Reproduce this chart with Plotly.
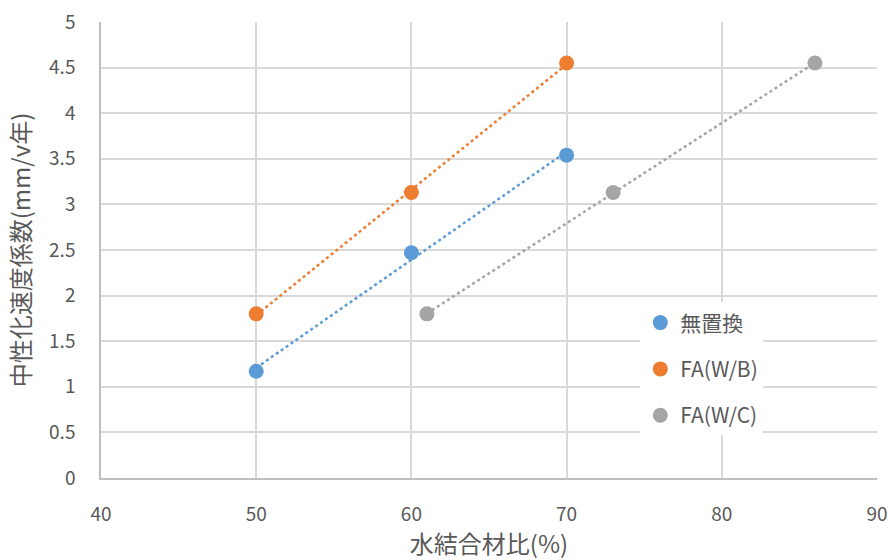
import numpy as np
import plotly.graph_objects as go

# Water-binder ratio (%) and carbonation rate coefficient for each mix series
series_names = ["無置換", "FA(W/B)", "FA(W/C)"]
x_none = [50, 60, 70]
y_none = [1.17, 2.47, 3.54]
x_fa_wb = [50, 60, 70]
y_fa_wb = [1.80, 3.13, 4.55]
x_fa_wc = [61, 73, 86]
y_fa_wc = [1.80, 3.13, 4.55]
colors = ["#5B9BD5", "#ED7D31", "#A5A5A5"]

x_ticks = [40, 50, 60, 70, 80, 90]
y_ticks = [0, 0.5, 1, 1.5, 2, 2.5, 3, 3.5, 4, 4.5, 5]

FONT = "Noto Sans CJK JP"
TEXT = "#595959"

fig = go.Figure()
data = [(x_none, y_none), (x_fa_wb, y_fa_wb), (x_fa_wc, y_fa_wc)]

# Linear trendlines (dotted), fitted to each series
for (xs, ys), c in zip(data, colors):
    k, b = np.polyfit(xs, ys, 1)
    xl = np.array([min(xs), max(xs)], dtype=float)
    fig.add_trace(go.Scatter(
        x=xl, y=k * xl + b, mode="lines",
        line=dict(color=c, width=2.5, dash="dot"),
        showlegend=False, hoverinfo="skip"))

# Measured points
for i, ((xs, ys), c, name) in enumerate(zip(data, colors, series_names)):
    fig.add_trace(go.Scatter(
        x=xs, y=ys, mode="markers", name=name,
        legendgroup=f"g{i}",
        marker=dict(color=c, size=15, line=dict(width=0))))

fig.update_layout(
    width=891, height=560,
    margin=dict(l=101, r=14, t=22, b=82, autoexpand=False),
    paper_bgcolor="white", plot_bgcolor="white",
    font=dict(family=FONT, color=TEXT, size=18),
    showlegend=True,
    legend=dict(
        x=0.695, y=0.385, xanchor="left", yanchor="top",
        bgcolor="white", borderwidth=0,
        font=dict(family=FONT, size=21, color=TEXT),
        tracegroupgap=16, itemwidth=30),
    xaxis=dict(
        range=[40, 90], tickvals=x_ticks, ticktext=[str(v) for v in x_ticks],
        showgrid=True, gridcolor="#D9D9D9", gridwidth=1.5,
        showline=True, linecolor="#BFBFBF", linewidth=1.5,
        zeroline=False, ticks="", ticklabelstandoff=18, automargin=False,
        title=dict(text="水結合材比(%)", font=dict(size=24, color=TEXT), standoff=18),
        tickfont=dict(size=19, color=TEXT)),
    yaxis=dict(
        range=[0, 5], tickvals=y_ticks, ticktext=[f"{v:g}" for v in y_ticks],
        showgrid=True, gridcolor="#D9D9D9", gridwidth=1.5,
        showline=True, linecolor="#BFBFBF", linewidth=1.5,
        zeroline=False, ticks="", ticklabelstandoff=20, automargin=False,
        title=dict(text="中性化速度係数(mm/v年)", font=dict(size=24, color=TEXT), standoff=12),
        tickfont=dict(size=19, color=TEXT)),
)

fig.write_html("out.html")
